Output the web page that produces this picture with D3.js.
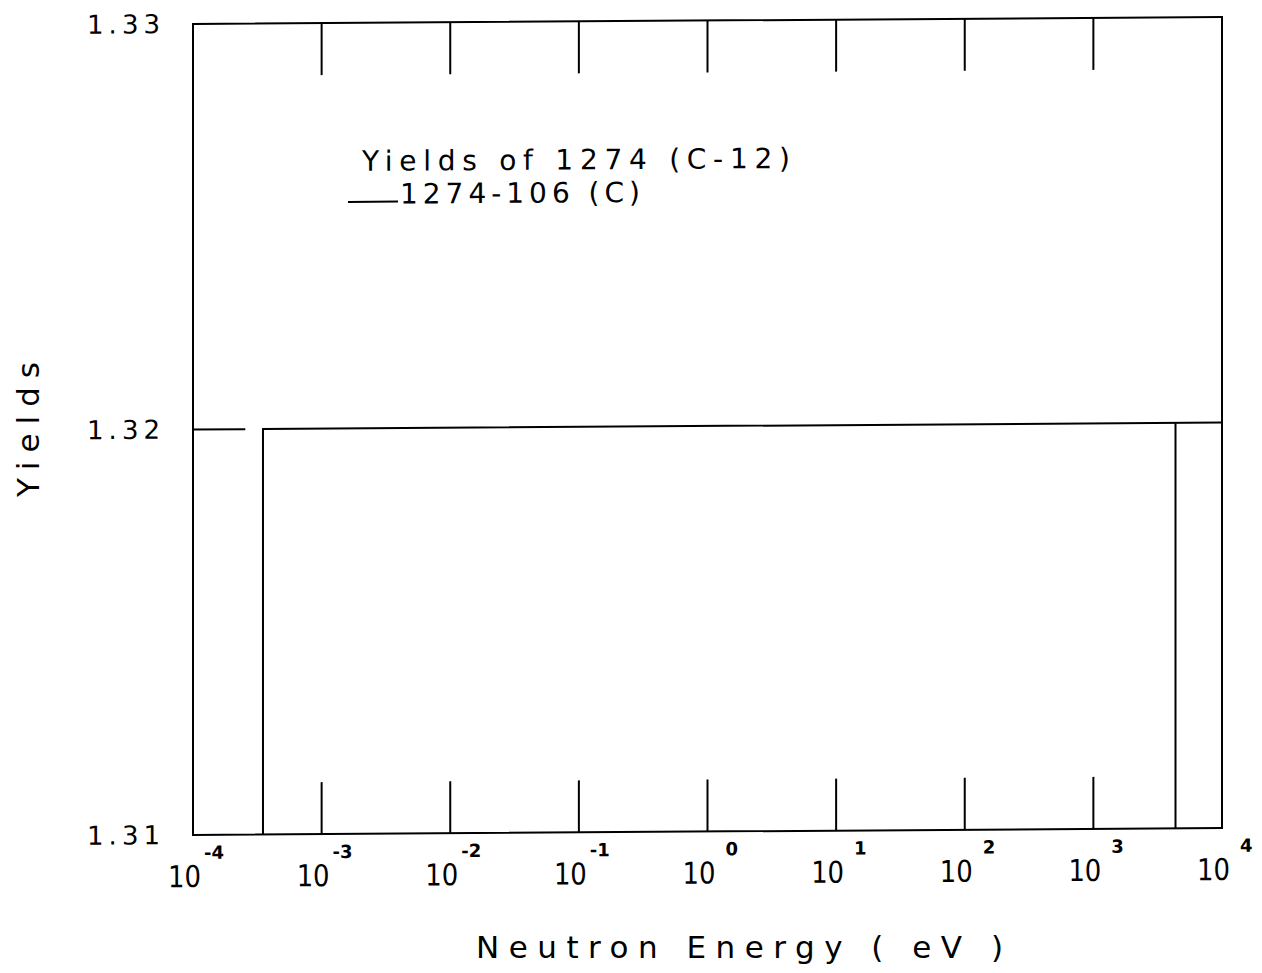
<!DOCTYPE html>
<html>
<head>
<meta charset="utf-8">
<title>Yields of 1274 (C-12)</title>
<style>
    body { margin: 0; background: #fff; }
    text { font-family: "DejaVu Sans", sans-serif; fill: #000; }
    .frame, .data, .tick { fill: none; stroke: #000; stroke-width: 2px; }
</style>
</head>
<body>
<svg id="container" width="1262" height="973">
    <g id="body" transform="translate(193,24) skewY(-0.39)"></g>
</svg>
<script src="https://cdn.jsdelivr.net/npm/d3@7"></script>
<script>
    // x tick exponents (10^n eV) and y tick values
    const xExponents = [-4, -3, -2, -1, 0, 1, 2, 3, 4]
    const yTicks = [1.31, 1.32, 1.33]

    // series 1274-106 (C), drawn as three pen strokes
    const seg1Energy = [1e-4, 2.55e-4]
    const seg1Yield = [1.32, 1.32]
    const seg2Energy = [3.5e-4, 3.5e-4, 1e4]
    const seg2Yield = [1.31, 1.32, 1.32]
    const seg3Energy = [4.35e3, 4.35e3]
    const seg3Yield = [1.32, 1.31]

    let body = d3.select("#body")
    let bodyWidth = 1029
    let bodyHeight = 811

    let xScale = d3.scaleLog()
        .domain([1e-4, 1e4])
        .range([0, bodyWidth])

    let yScale = d3.scaleLinear()
        .domain([1.31, 1.33])
        .range([bodyHeight, 0])

    // frame
    body.append("rect")
        .attr("class", "frame")
        .attr("x", 0).attr("y", 0)
        .attr("width", bodyWidth).attr("height", bodyHeight)

    // inner decade ticks, top and bottom
    let inner = xExponents.slice(1, -1)
    body.selectAll(".tickTop").data(inner).enter().append("line")
        .attr("class", "tick")
        .attr("x1", d => xScale(Math.pow(10, d))).attr("x2", d => xScale(Math.pow(10, d)))
        .attr("y1", 0).attr("y2", 52)
    body.selectAll(".tickBot").data(inner).enter().append("line")
        .attr("class", "tick")
        .attr("x1", d => xScale(Math.pow(10, d))).attr("x2", d => xScale(Math.pow(10, d)))
        .attr("y1", bodyHeight).attr("y2", bodyHeight - 52)

    // x tick labels: 10 with superscript exponent
    let xl = body.selectAll(".xlab").data(xExponents).enter().append("g")
        .attr("transform", d => `translate(${xScale(Math.pow(10, d))},0)`)
    xl.append("text")
        .attr("x", 8).attr("y", bodyHeight + 52)
        .attr("text-anchor", "end")
        .attr("font-size", 30)
        .attr("textLength", 33)
        .attr("lengthAdjust", "spacingAndGlyphs")
        .text("10")
    xl.append("text")
        .attr("x", d => d < 0 ? 11 : 18).attr("y", bodyHeight + 24)
        .attr("font-size", 18)
        .attr("font-weight", "bold")
        .text(d => d)

    // y tick labels
    body.selectAll(".ylab").data(yTicks).enter().append("text")
        .attr("x", -106).attr("y", d => yScale(d) + 9)
        .attr("font-size", 26)
        .attr("textLength", 73)
        .text(d => d.toFixed(2))

    // data strokes
    let line = d3.line()
        .x(d => xScale(d[0]))
        .y(d => yScale(d[1]))
    let segs = [
        d3.zip(seg1Energy, seg1Yield),
        d3.zip(seg2Energy, seg2Yield),
        d3.zip(seg3Energy, seg3Yield)
    ]
    body.selectAll(".data").data(segs).enter().append("path")
        .attr("class", "data")
        .attr("d", line)

    // legend
    body.append("text")
        .attr("x", 169).attr("y", 148)
        .attr("font-size", 28)
        .attr("textLength", 428)
        .text("Yields of 1274 (C-12)")
    body.append("line")
        .attr("class", "tick")
        .attr("stroke-width", 1.5)
        .attr("x1", 155).attr("x2", 205)
        .attr("y1", 179).attr("y2", 179)
    body.append("text")
        .attr("x", 207).attr("y", 181)
        .attr("font-size", 28)
        .attr("textLength", 240)
        .text("1274-106 (C)")

    // axis titles
    d3.select("#container").append("text")
        .attr("x", 476).attr("y", 958)
        .attr("font-size", 31)
        .attr("textLength", 527)
        .text("Neutron Energy ( eV )")
    d3.select("#container").append("text")
        .attr("transform", "translate(39,497) rotate(-90)")
        .attr("font-size", 31)
        .attr("textLength", 135)
        .text("Yields")
</script>
</body>
</html>
